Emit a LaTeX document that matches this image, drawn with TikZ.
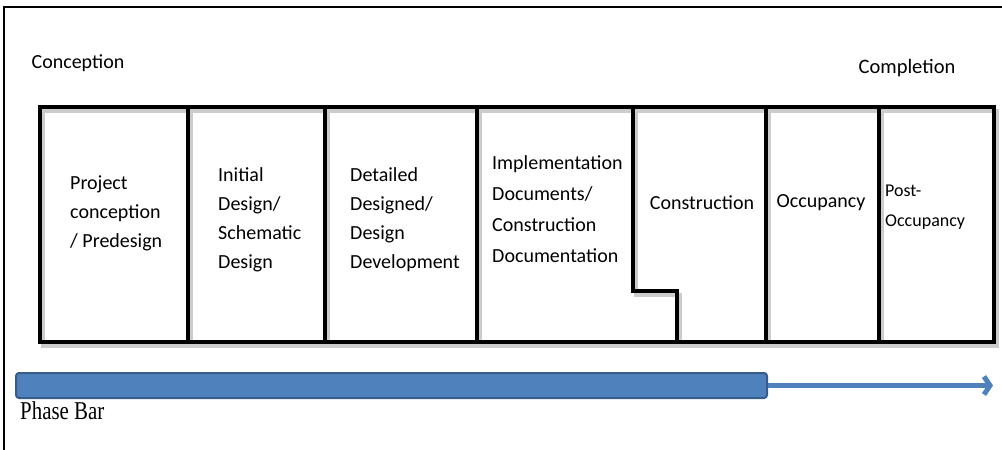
\documentclass[tikz,border=0pt]{standalone}
\usepackage{fontspec}
\setmainfont{Carlito}
\newfontfamily\barfont{Liberation Serif}
\usetikzlibrary{arrows.meta}
\definecolor{barblue}{RGB}{79,129,189}
\definecolor{barrim}{RGB}{56,93,138}

\begin{document}
\begin{tikzpicture}[x=1pt, y=-1pt,
				line join=miter, line cap=rect,
				every node/.style = {inner sep=0pt, font=\fontsize{20}{29}\selectfont},
				stage/.style = {anchor=north west, align=left},
				edge/.style = {line width=4pt},
				shadowline/.style = {line width=4pt, black!20}
				]
				\useasboundingbox (0,0) rectangle (1002,450);
				% outer frame
				\draw[line width=2pt] (4,450) -- (4,7) -- (1002,7);
				% stage cells
				\draw[shadowline, shift={(3,4)}]
				(40,107) rectangle (994,342)
				(188,107) -- (188,342)
				(325,107) -- (325,342)
				(477,107) -- (477,342)
				(633,107) -- (633,291) -- (677,291) -- (677,342)
				(766,107) -- (766,342)
				(879,107) -- (879,342);
				\draw[edge]
				(40,107) rectangle (994,342)
				(188,107) -- (188,342)
				(325,107) -- (325,342)
				(477,107) -- (477,342)
				(633,107) -- (633,291) -- (677,291) -- (677,342)
				(766,107) -- (766,342)
				(879,107) -- (879,342);
				\node[font=\fontsize{20}{20}\selectfont] (start) at (78,63) {Conception};
				\node[font=\fontsize{20.5}{20}\selectfont] (finish) at (907,68) {Completion};
				\node[stage] (predesign) at (70,176) {Project\\conception\\/ Predesign};
				\node[stage] (schematic) at (218,167) {Initial\\Design/\\Schematic\\Design};
				\node[stage] (development) at (350,167) {Detailed\\Designed/\\Design\\Development};
				\node[stage, font=\fontsize{20}{31}\selectfont] (documents) at (492,155)
				{Implementation\\Documents/\\Construction\\Documentation};
				\node (construction) at (702,203) {Construction};
				\node (occupancy) at (821,203) {Occupancy};
				\node[stage, font=\fontsize{18}{30}\selectfont] (postocc) at (885,185) {Post-\\Occupancy};
				% phase bar
				\node[anchor=north west, minimum width=751pt, minimum height=25pt,
				rounded corners=3pt, fill=barblue, draw=barrim, line width=2pt] (bar) at (15,372) {};
				\coordinate (barend) at (bar.east -| 993,0);
				\draw[barblue, line width=5pt, line cap=butt,
				-{Straight Barb[length=6pt, width=18pt]}] (bar.east) -- (barend);
				\node[anchor=west] (barlabel) at (20,411)
				{\scalebox{1.1}[1.35]{\barfont\fontsize{19}{19}\selectfont Phase Bar}};
				\end{tikzpicture}
\end{document}
